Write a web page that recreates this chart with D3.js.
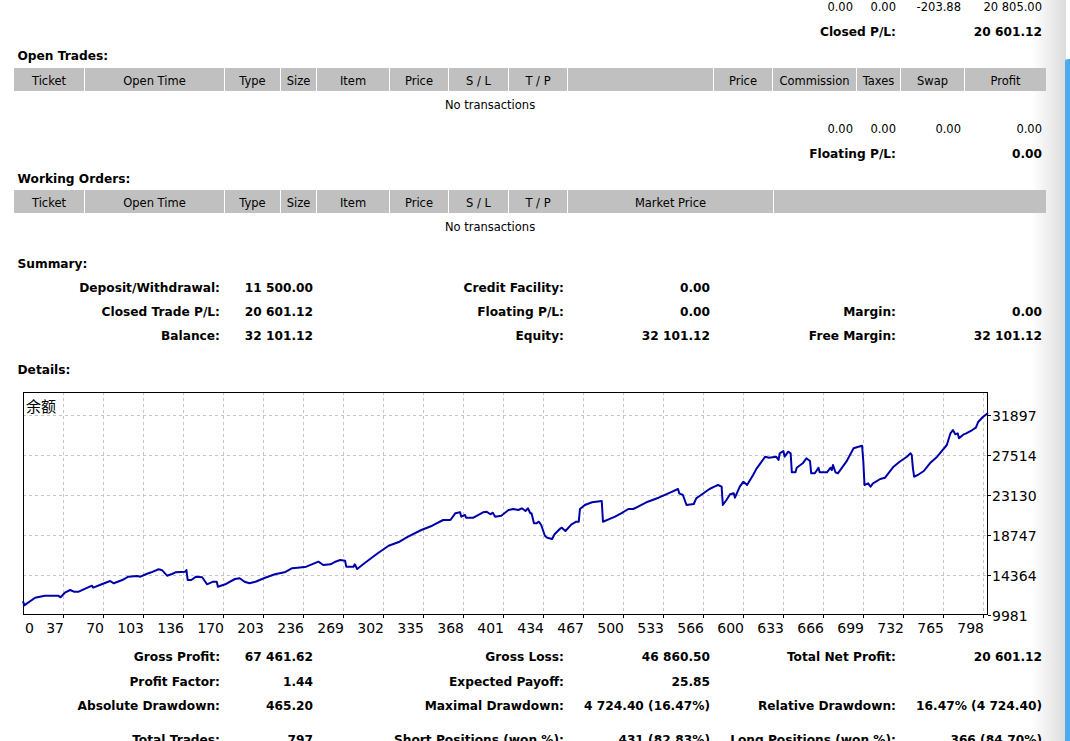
<!DOCTYPE html>
<html><head><meta charset="utf-8">
<script src="https://cdn.jsdelivr.net/npm/d3@7"></script>
<style>html,body{margin:0;padding:0;background:#fff;overflow:hidden}</style>
</head><body><svg id="c" width="1070" height="741"></svg>
<script>
// ---------- data ----------
const topTotals = ["0.00", "0.00", "-203.88", "20 805.00"];
const closedPL = ["Closed P/L:", "20 601.12"];
const openTradeHeaders = ["Ticket","Open Time","Type","Size","Item","Price","S / L","T / P","","Price","Commission","Taxes","Swap","Profit"];
const openTotals = ["0.00", "0.00", "0.00", "0.00"];
const floatingPL = ["Floating P/L:", "0.00"];
const workingHeaders = ["Ticket","Open Time","Type","Size","Item","Price","S / L","T / P","Market Price",""];
const noTransactions = "No transactions";
const summaryCol1 = [["Deposit/Withdrawal:","11 500.00"],["Closed Trade P/L:","20 601.12"],["Balance:","32 101.12"]];
const summaryCol2 = [["Credit Facility:","0.00"],["Floating P/L:","0.00"],["Equity:","32 101.12"]];
const summaryCol3 = [null,["Margin:","0.00"],["Free Margin:","32 101.12"]];
const statsCol1 = [["Gross Profit:","67 461.62"],["Profit Factor:","1.44"],["Absolute Drawdown:","465.20"],["Total Trades:","797"]];
const statsCol2 = [["Gross Loss:","46 860.50"],["Expected Payoff:","25.85"],["Maximal Drawdown:","4 724.40 (16.47%)"],["Short Positions (won %):","431 (82.83%)"]];
const statsCol3 = [["Total Net Profit:","20 601.12"],null,["Relative Drawdown:","16.47% (4 724.40)"],["Long Positions (won %):","366 (84.70%)"]];
const chartTitle = "余额";
const xTickLabels = ["0","37","70","103","136","170","203","236","269","302","335","368","401","434","467","500","533","566","600","633","666","699","732","765","798"];
const yTickValues = [9981, 14364, 18747, 23130, 27514, 31897];
const totalTrades = 797;
const balanceTrades = [0,1,10,18,29,31,35,39,42,46,57,58,65,72,75,82,87,94,97,102,106,112,115,119,123,126,134,135,136,139,143,148,152,157,160,161,167,175,179,183,187,192,200,208,216,222,227,234,244,248,254,258,262,266,267,273,274,276,282,293,302,311,318,329,338,347,353,357,361,362,365,366,372,380,383,386,388,390,395,401,405,409,412,415,417,419,420,422,424,426,428,431,433,437,439,444,445,448,453,457,459,460,464,470,478,479,489,494,500,504,508,516,525,533,541,542,545,548,554,556,558,562,567,571,574,577,578,581,584,587,588,592,595,598,603,606,609,613,616,622,624,625,628,629,632,634,635,638,639,644,647,650,651,654,657,658,664,667,668,669,671,673,680,686,690,693,694,695,698,700,702,708,712,719,724,730,733,734,735,736,739,744,749,755,763,766,768,770,772,773,777,779,784,787,789,793,797];
const balanceValues = [11500,11035,11877,12096,12096,11921,12468,12721,12534,12534,13192,12973,13345,13707,13455,13816,14178,14255,14178,14474,14660,14989,14879,14288,14474,14660,14726,14912,13816,13816,14178,14112,13345,13630,13630,13082,13345,13926,14003,13630,13455,13630,14068,14441,14660,15098,15164,15274,15822,15460,15537,15822,16008,15931,15274,15274,15537,15022,15646,16742,17575,18013,18561,19295,19767,20391,20391,21125,21235,20753,20939,20643,20643,21235,21301,21016,21191,20753,20862,21487,21596,21487,21673,21377,21673,21125,21125,20030,20030,20205,19843,18671,18452,18309,18824,19482,19547,19186,19920,20205,20205,21596,22035,22331,22473,20205,20753,21125,21596,21596,21849,22396,22835,23317,23788,23317,23131,22035,22144,22769,22944,23317,23788,24040,24226,24040,22035,22583,23207,23317,22835,24040,24588,24226,25322,26056,26604,27328,27218,27328,26966,27700,27952,27328,27875,27700,25618,25618,26122,26604,27152,26856,25509,25509,26122,25618,25618,26122,25870,26418,25618,25509,26780,28248,28423,28533,26856,24226,24413,24040,24413,24884,25026,26232,26780,27328,27700,27514,26056,25136,25322,25761,26604,27328,28610,29892,30253,29782,29892,29344,29782,29892,30253,30505,31163,31711,32101];

// ---------- page ----------
const svg = d3.select("#c");
const FONT = "'DejaVu Sans', Verdana, sans-serif";
const REG = 11.5, BOLD = 12.2;

// right side shadow + blue bar
const defs = svg.append("defs");
const g1 = defs.append("linearGradient").attr("id","sh").attr("x1",0).attr("x2",1).attr("y1",0).attr("y2",0);
g1.append("stop").attr("offset","0").attr("stop-color","#ffffff");
g1.append("stop").attr("offset","1").attr("stop-color","#dcdcdc");
svg.append("rect").attr("x",1032).attr("y",0).attr("width",34).attr("height",741).attr("fill","url(#sh)");
svg.append("rect").attr("x",1065).attr("y",59).attr("width",12).attr("height",700).attr("rx",3).attr("fill","#52aaee");

function t(x, y, s, o = {}) {
  return svg.append("text").attr("x", x).attr("y", y).attr("dy", "0.35em")
    .attr("font-family", o.family || FONT)
    .attr("font-size", o.size || (o.bold ? BOLD : REG))
    .attr("font-weight", o.bold ? "bold" : "normal")
    .attr("text-anchor", o.anchor || "start")
    .attr("fill", "#000").text(s);
}

// top totals
const totRight = [853, 896, 961, 1042];
topTotals.forEach((s, i) => t(totRight[i], 7, s, {anchor: "end"}));
t(896, 31.5, closedPL[0], {bold: true, anchor: "end"});
t(1042, 31.5, closedPL[1], {bold: true, anchor: "end"});

t(17.5, 55.5, "Open Trades:", {bold: true});

function header(edges, labels, y0, h) {
  labels.forEach((lab, i) => {
    const x0 = edges[i], x1 = edges[i + 1];
    svg.append("rect").attr("x", x0).attr("y", y0).attr("width", x1 - x0 - 1).attr("height", h).attr("fill", "#c0c0c0");
    if (lab) t((x0 + x1 - 1) / 2, y0 + h / 2 + 1, lab, {anchor: "middle"});
  });
}
const openEdges = [14, 85, 225, 281, 317, 390, 449, 509, 568, 714, 773, 857, 901, 965, 1047];
header(openEdges, openTradeHeaders, 68, 23);
t(490, 104.5, noTransactions, {anchor: "middle"});
openTotals.forEach((s, i) => t(totRight[i], 129, s, {anchor: "end"}));
t(896, 153.5, floatingPL[0], {bold: true, anchor: "end"});
t(1042, 153.5, floatingPL[1], {bold: true, anchor: "end"});

t(17.5, 178.5, "Working Orders:", {bold: true});
const workEdges = [14, 85, 225, 281, 317, 390, 449, 509, 568, 774, 1047];
header(workEdges, workingHeaders, 190, 23);
t(490, 227, noTransactions, {anchor: "middle"});

t(17.5, 263.5, "Summary:", {bold: true});
const sumRows = [287.5, 312, 335.5];
function pairs(col, rows, labR, valR) {
  col.forEach((p, i) => {
    if (!p) return;
    t(labR, rows[i], p[0], {bold: true, anchor: "end"});
    t(valR, rows[i], p[1], {bold: true, anchor: "end"});
  });
}
pairs(summaryCol1, sumRows, 220, 313);
pairs(summaryCol2, sumRows, 564, 710);
pairs(summaryCol3, sumRows, 896, 1042);

t(17.5, 369.5, "Details:", {bold: true});

const statRows = [656.5, 681.5, 705.5, 740];
pairs(statsCol1, statRows, 220, 313);
pairs(statsCol2, statRows, 564, 710);
pairs(statsCol3, statRows, 896, 1042);

// ---------- chart ----------
const L = 23, R = 988, T = 392, B = 615;
const x = d3.scaleLinear().domain([0, totalTrades]).range([L, R]);
const y = d3.scaleLinear().domain([9981, 34418]).range([B, T]);
const gx = d3.scaleLinear().domain([0, xTickLabels.length - 1]).range([L, 983]);

svg.append("rect").attr("x", L).attr("y", T).attr("width", R - L).attr("height", B - T).attr("fill", "#fff");
const grid = svg.append("g").attr("stroke", "#c4c4c4").attr("stroke-dasharray", "3,3").attr("stroke-width", 1);
xTickLabels.forEach((lab, i) => {
  if (i === 0) return;
  const px = Math.round(gx(i)) + 0.5;
  grid.append("line").attr("x1", px).attr("x2", px).attr("y1", T).attr("y2", B);
});
yTickValues.forEach(v => {
  if (v === yTickValues[0]) return;
  const py = Math.round(y(v)) + 0.5;
  grid.append("line").attr("x1", L).attr("x2", R).attr("y1", py).attr("y2", py);
});

// ticks
const tk = svg.append("g").attr("stroke", "#000").attr("stroke-width", 1);
xTickLabels.forEach((lab, i) => {
  if (i === 0) return;
  const px = Math.round(gx(i)) + 0.5;
  tk.append("line").attr("x1", px).attr("x2", px).attr("y1", B).attr("y2", B + 3);
});
yTickValues.forEach(v => {
  const py = Math.round(y(v)) + 0.5;
  tk.append("line").attr("x1", R).attr("x2", R + 3).attr("y1", py).attr("y2", py);
});

// frame
svg.append("rect").attr("x", L + 0.5).attr("y", T + 0.5).attr("width", R - L - 1).attr("height", B - T - 1)
  .attr("fill", "none").attr("stroke", "#000").attr("stroke-width", 1);

// tick labels
xTickLabels.forEach((lab, i) => {
  svg.append("text").attr("x", i === 0 ? L + 2 : gx(i) + 1).attr("y", 633)
    .attr("font-family", FONT).attr("font-size", 14)
    .attr("text-anchor", i === 0 ? "start" : "end").attr("fill", "#000").text(lab);
});
yTickValues.forEach(v => {
  svg.append("text").attr("x", 992).attr("y", y(v) + 5.5)
    .attr("font-family", FONT).attr("font-size", 14).attr("fill", "#000").text(v);
});
svg.append("text").attr("x", 26).attr("y", 412).attr("font-family", "'Noto Sans CJK SC', sans-serif")
  .attr("font-size", 15).attr("fill", "#000").text(chartTitle);

// balance line
const pts = balanceTrades.map((d, i) => [d, balanceValues[i]]);
svg.append("path").datum(pts)
  .attr("d", d3.line().x(d => x(d[0])).y(d => y(d[1])))
  .attr("fill", "none").attr("stroke", "#0000aa").attr("stroke-width", 2)
  .attr("stroke-linejoin", "round");
</script>
</body></html>
